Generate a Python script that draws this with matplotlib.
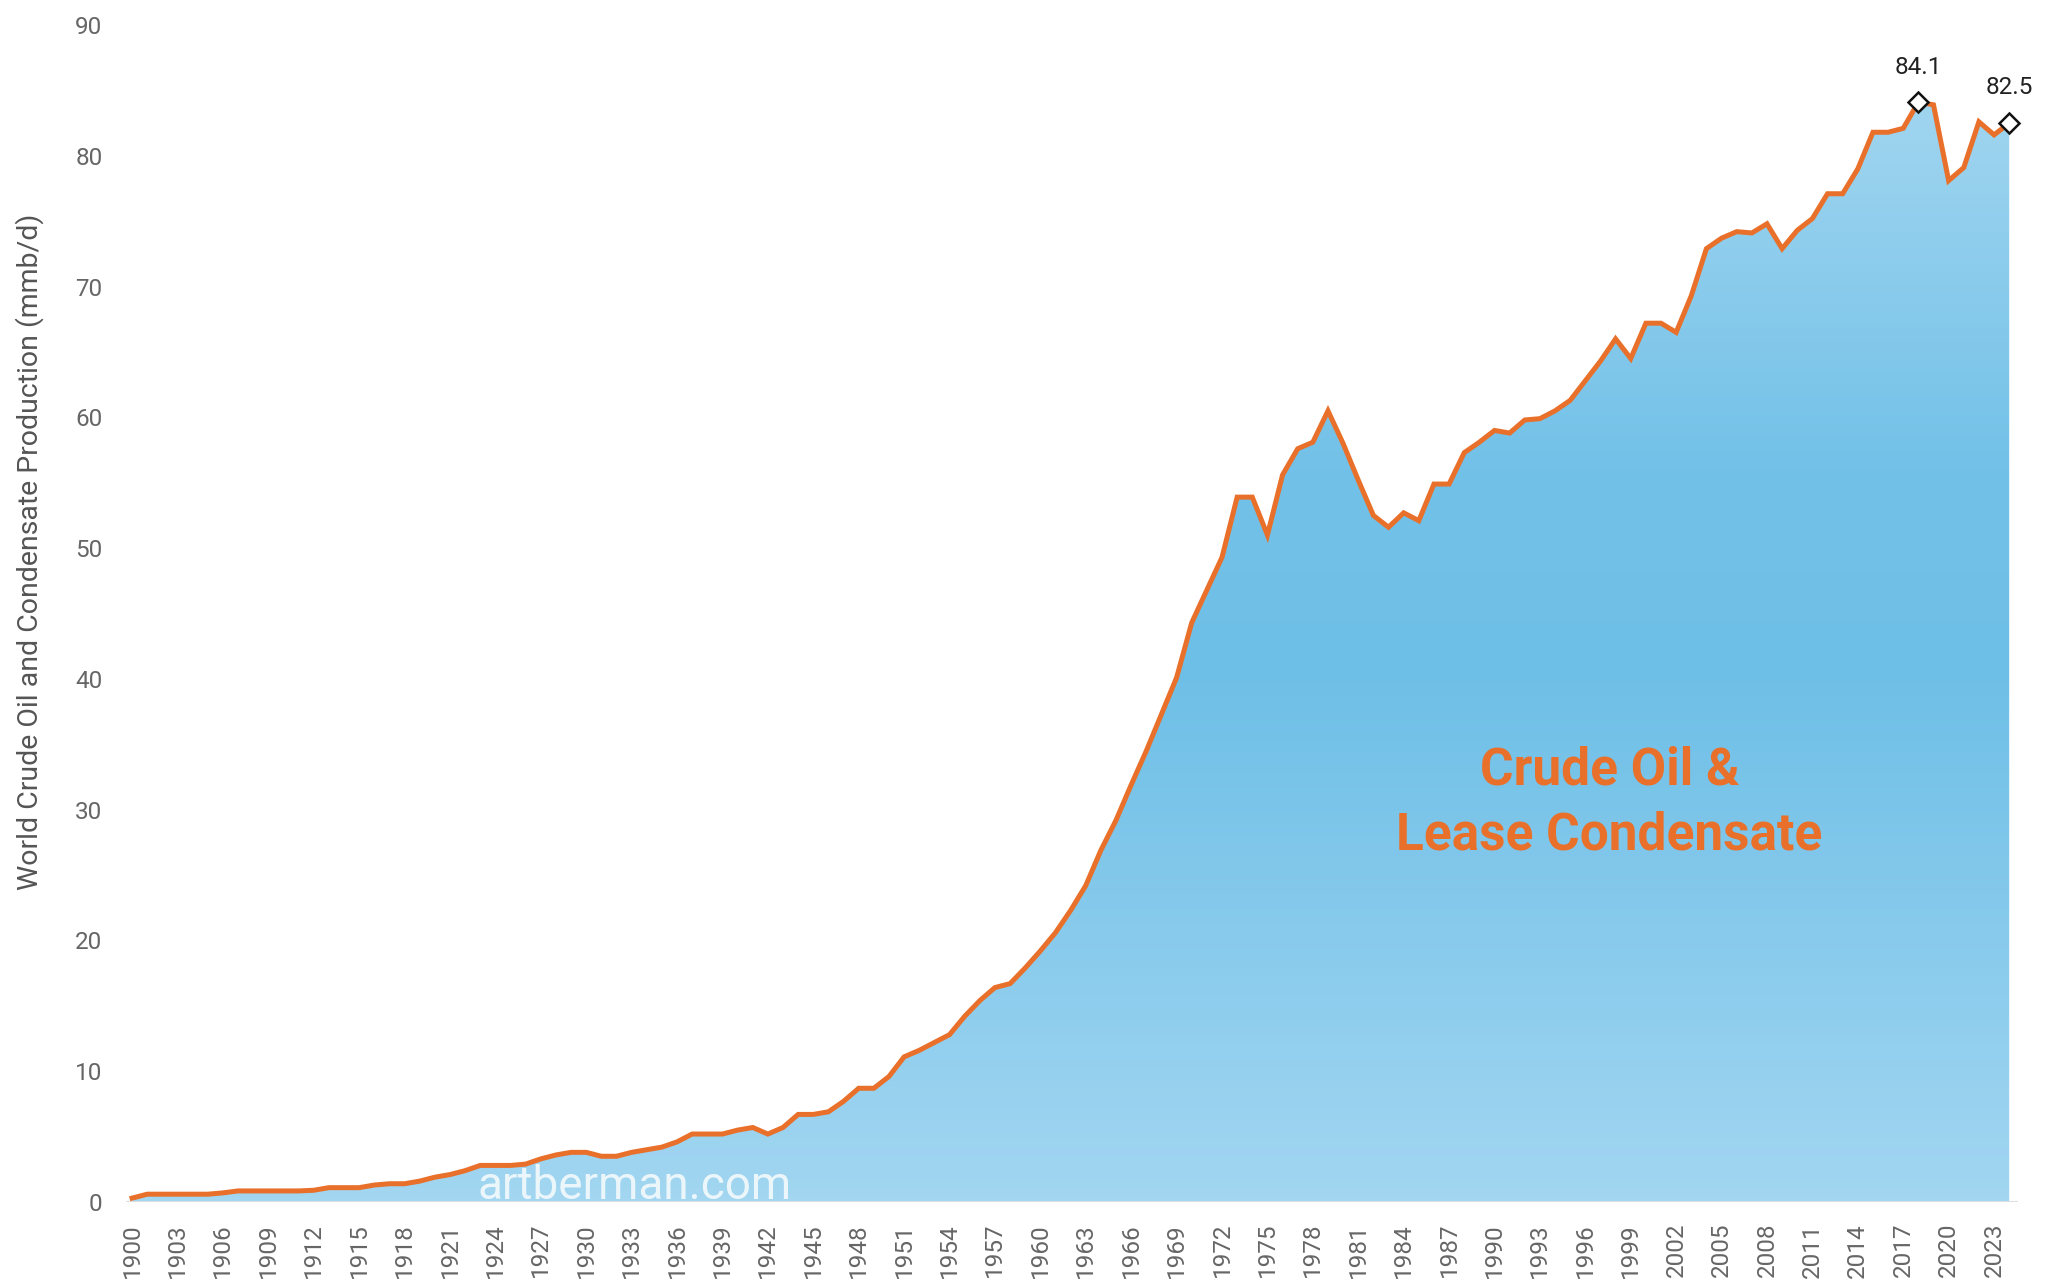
import numpy as np
import matplotlib
matplotlib.use("Agg")
import matplotlib.pyplot as plt
from matplotlib.colors import LinearSegmentedColormap

# world crude oil + lease condensate, mmb/d, 1900-2024
years = list(range(1900, 2025))
production = [
    0.3, 0.6, 0.6, 0.6, 0.6, 0.6, 0.7, 0.85, 0.85, 0.85,      # 1900s
    0.85, 0.85, 0.9, 1.1, 1.1, 1.1, 1.3, 1.4, 1.4, 1.6,       # 1910s
    1.9, 2.1, 2.4, 2.8, 2.8, 2.8, 2.9, 3.3, 3.6, 3.8,         # 1920s
    3.8, 3.5, 3.5, 3.8, 4.0, 4.2, 4.6, 5.2, 5.2, 5.2,         # 1930s
    5.5, 5.7, 5.2, 5.7, 6.7, 6.7, 6.9, 7.7, 8.7, 8.7,         # 1940s
    9.6, 11.1, 11.6, 12.2, 12.8, 14.2, 15.4, 16.4, 16.7, 17.9,  # 1950s
    19.2, 20.6, 22.3, 24.2, 26.9, 29.2, 31.9, 34.5, 37.3, 40.1,  # 1960s
    44.3, 46.8, 49.3, 53.9, 53.9, 51.0, 55.6, 57.6, 58.1, 60.5,  # 1970s
    58.0, 55.2, 52.5, 51.6, 52.7, 52.1, 54.9, 54.9, 57.3, 58.1,  # 1980s
    59.0, 58.8, 59.8, 59.9, 60.5, 61.3, 62.8, 64.3, 66.0, 64.5,  # 1990s
    67.2, 67.2, 66.5, 69.3, 72.9, 73.7, 74.2, 74.1, 74.8, 72.9,  # 2000s
    74.3, 75.2, 77.1, 77.1, 79.0, 81.8, 81.8, 82.1, 84.1, 83.9,  # 2010s
    78.1, 79.1, 82.6, 81.6, 82.5,                                # 2020s
]
tick_years = list(range(1900, 2024, 3))
y_ticks = list(range(0, 100, 10))
peak_year, peak_val = 2018, 84.1
last_year, last_val = 2024, 82.5

x = np.array(years)
y = np.array(production)

fig = plt.figure(figsize=(20.49, 12.83), dpi=100)
ax = fig.add_axes([0.0615, 0.0631, 0.9235, 0.9174])
ax.set_xlim(1899.6, 2024.6)
ax.set_ylim(0, 90)

# gradient fill under the curve
cmap = LinearSegmentedColormap.from_list("blues", [
    (0.0, "#a2d6f1"), (0.45, "#6ebfe7"), (0.62, "#72c1e8"), (1.0, "#aad9f1")])
grad = np.linspace(0, 1, 256).reshape(-1, 1)
img = ax.imshow(grad, cmap=cmap, origin="lower", aspect="auto",
                extent=[1899.6, 2024.6, 0, 90], zorder=1)
poly = ax.fill_between(x, 0, y, facecolor="none", edgecolor="none")
img.set_clip_path(poly.get_paths()[0], transform=ax.transData)

ax.axhline(0, color="#dcdfe2", lw=1.5, zorder=2)
ax.plot(x, y, color="#e8702a", lw=3.6, zorder=3, solid_joinstyle="miter")

# markers + labels
for yr, v in [(peak_year, peak_val), (last_year, last_val)]:
    ax.plot(yr, v, marker="D", ms=10.5, mfc="white", mec="#111111", mew=1.8,
            zorder=4, clip_on=False)
    ax.annotate(f"{v}", (yr, v), xytext=(0, 17), textcoords="offset points",
                ha="center", va="bottom", fontsize=17.5, color="#222222",
                family="Roboto")

ax.text(1922.8, 0.2, "artberman.com", color="white", alpha=0.8,
        fontsize=33, family="Roboto", fontweight="normal", va="baseline",
        zorder=3)

ax.text(1997.6, 30.5, "Crude Oil &\nLease Condensate", color="#e8702a",
        fontsize=37, fontweight="bold", ha="center", va="center",
        linespacing=1.4, family="Roboto", zorder=3)

ax.set_xticks(tick_years)
ax.set_xticklabels([str(t) for t in tick_years], rotation=90, fontsize=17.5,
                   color="#666666", family="Roboto")
ax.set_yticks(y_ticks)
ax.set_yticklabels([str(t) for t in y_ticks], fontsize=17.5, color="#666666",
                   family="Roboto")
ax.tick_params(axis="x", length=0, pad=15)
ax.tick_params(axis="y", length=0, pad=17)
for s in ax.spines.values():
    s.set_visible(False)

fig.text(0.0145, 0.57, "World Crude Oil and Condensate Production (mmb/d)",
         rotation=90, ha="center", va="center", fontsize=20.5, color="#555555",
         family="Roboto")

fig.savefig("out.png", dpi=100, facecolor="white")
